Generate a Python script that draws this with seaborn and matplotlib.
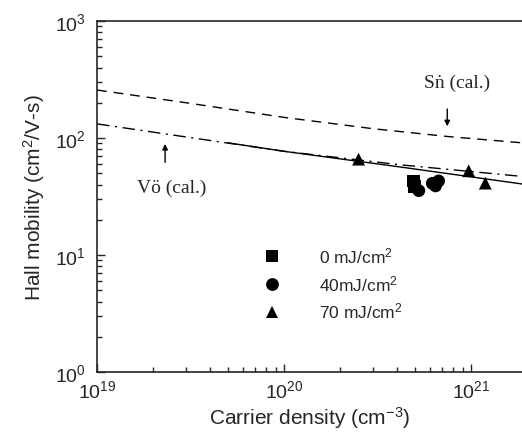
import numpy as np
import pandas as pd
import matplotlib
matplotlib.use("Agg")
import matplotlib.pyplot as plt
import seaborn as sns

# measured Hall mobility vs carrier density, per laser fluence
fluence = ["0 mJ/cm$^2$", "0 mJ/cm$^2$",
           "40mJ/cm$^2$", "40mJ/cm$^2$", "40mJ/cm$^2$", "40mJ/cm$^2$",
           "70 mJ/cm$^2$", "70 mJ/cm$^2$", "70 mJ/cm$^2$"]
density = [4.9e20, 5.0e20,
           5.25e20, 6.2e20, 6.45e20, 6.7e20,
           2.5e20, 9.7e20, 1.19e21]
mobility = [43.0, 38.7,
            35.5, 41.0, 39.0, 43.0,
            66.0, 52.5, 41.2]

# calculated curves
sn_density = [1e19, 3e19, 1e20, 3e20, 7.5e20, 1.87e21]
sn_mobility = [257, 200, 150, 120, 103, 91]
vo_density = [1e19, 3e19, 1e20, 4.2e20, 1.87e21]
vo_mobility = [132, 102, 77, 59, 47]
fit_density = [5e19, 1e20, 4.2e20, 1.87e21]
fit_mobility = [91, 77, 56.5, 40.5]

sns.set_style("ticks")
plt.rcParams["font.family"] = ["Liberation Sans", "DejaVu Sans"]
plt.rcParams["mathtext.fontset"] = "custom"
plt.rcParams["mathtext.rm"] = "Liberation Sans"
plt.rcParams["mathtext.it"] = "Liberation Sans:italic"

fig = plt.figure(figsize=(5.22, 4.39), dpi=100)
ax = fig.add_axes([0.186, 0.150, 0.814, 0.800])

sns.lineplot(x=sn_density, y=sn_mobility, ax=ax, color="black", lw=1.0,
             linestyle=(0, (7, 5)))
sns.lineplot(x=vo_density, y=vo_mobility, ax=ax, color="black", lw=1.0,
             linestyle=(0, (9, 4, 1.5, 4)))
sns.lineplot(x=fit_density, y=fit_mobility, ax=ax, color="black", lw=1.0)

df = pd.DataFrame({"density": density, "mobility": mobility, "fluence": fluence})
sns.scatterplot(data=df, x="density", y="mobility", style="fluence",
                markers=["s", "o", "^"], color="black", s=85,
                edgecolor="black", linewidth=0, ax=ax)

ax.set_xscale("log")
ax.set_yscale("log")
ax.set_xlim(1e19, 1.87e21)
ax.set_ylim(1, 1000)

ax.tick_params(which="both", direction="in", top=False, right=False,
               labelsize=14, width=1)
ax.tick_params(which="major", length=6)
ax.tick_params(which="minor", length=3.5)
ax.tick_params(axis="y", which="major", pad=8)
ax.tick_params(axis="x", which="major", pad=5)
ax.spines["right"].set_visible(False)
for s in ["left", "bottom", "top"]:
    ax.spines[s].set_linewidth(1.2)

ax.set_xlabel("Carrier density (cm$^{-3}$)", fontsize=15, labelpad=2)
ax.set_ylabel("Hall mobility (cm$^2$/V-s)", fontsize=15, labelpad=6)

sns.move_legend(ax, loc="upper left", bbox_to_anchor=(0.335, 0.405),
                frameon=False, title=None, fontsize=12.5,
                handletextpad=1.7, labelspacing=0.45)

serif = ["Liberation Serif", "DejaVu Serif"]
arrow = dict(arrowstyle="-|>", color="black", lw=1, mutation_scale=8,
             shrinkA=0, shrinkB=0)
ax.text(8.4e20, 301, "S\u1e45 (cal.)", fontsize=14, family=serif,
        ha="center", va="center")
ax.annotate("", xy=(7.45e20, 126), xytext=(7.45e20, 177), arrowprops=arrow)
ax.text(2.49e19, 38.1, "V\u00f6 (cal.)", fontsize=14, family=serif,
        ha="center", va="center")
ax.annotate("", xy=(2.31e19, 89), xytext=(2.31e19, 62), arrowprops=arrow)

fig.savefig("out.png", dpi=100)
